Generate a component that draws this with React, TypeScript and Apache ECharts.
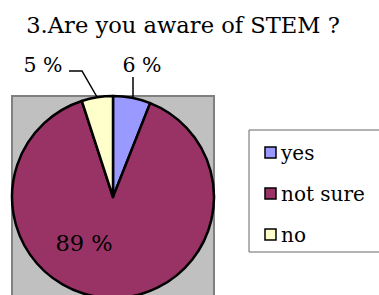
import React, { useEffect, useRef } from "react";
import * as echarts from "echarts";

const titleText = "3.Are you aware of STEM ?";
const categories = ["yes", "not sure", "no"];
const values = [6, 89, 5];
const colors = ["#9999FF", "#993366", "#FFFFCC"];

const FONT = "DejaVu Serif";

// legend layout constants
const LEG_LEFT = 249;
const LEG_TOP = 130;
const LEG_PAD = [10, 30, 5, 10];
const LEG_ROW = 25;
const LEG_GAP = 16;
const BOX = 11;

export default function App() {
  const ref = useRef<HTMLDivElement>(null);
  useEffect(() => {
    if (!ref.current) return;
    const chart = echarts.init(ref.current, null, { renderer: "svg" });
    const labelPos = [
      { x: 142, y: 65, line: [[133, 97], [133, 77], [133, 77]] },
      { x: 84, y: 243, line: null },
      { x: 43, y: 65, line: [[97, 97], [82, 71], [69, 71]] },
    ];
    const rich: any = {
      t: { fontFamily: FONT, fontSize: 20, lineHeight: LEG_ROW, color: "#000", padding: [0, 0, 0, 5] },
    };
    colors.forEach((c, i) => {
      rich["b" + i] = { width: BOX, height: BOX, backgroundColor: c };
    });
    const boxX = LEG_LEFT + LEG_PAD[3] + 1 + 5;
    const outlines = categories.map((_, i) => {
      const cy = LEG_TOP + LEG_PAD[0] + LEG_ROW / 2 + i * (LEG_ROW + LEG_GAP);
      return {
        type: "rect",
        shape: { x: boxX, y: cy - BOX / 2, width: BOX, height: BOX },
        style: { fill: "none", stroke: "#000", lineWidth: 1.5 },
        z: 100,
        silent: true,
      };
    });
    chart.setOption({
      animation: false,
      backgroundColor: "#ffffff",
      textStyle: { fontFamily: FONT },
      title: {
        text: titleText,
        left: 178,
        top: 8,
        textAlign: "center",
        textStyle: { fontFamily: FONT, fontSize: 22.6, fontWeight: "normal", color: "#000" },
      },
      graphic: [
        {
          type: "rect",
          shape: { x: 12, y: 96, width: 202, height: 220 },
          style: { fill: "#C0C0C0", stroke: "#808080", lineWidth: 2 },
          z: -10,
          silent: true,
        },
        ...outlines,
      ],
      legend: {
        orient: "vertical",
        left: LEG_LEFT,
        top: LEG_TOP,
        padding: LEG_PAD,
        itemGap: LEG_GAP,
        itemWidth: 1,
        itemHeight: 12,
        icon: "none",
        borderColor: "#666666",
        borderWidth: 1,
        backgroundColor: "#ffffff",
        formatter: (name: string) => `{b${categories.indexOf(name)}|}{t|${name}}`,
        textStyle: { fontFamily: FONT, fontSize: 20, lineHeight: LEG_ROW, color: "#000", rich },
        data: categories,
      },
      series: [
        {
          type: "pie",
          center: [113, 197],
          radius: 101,
          startAngle: 90,
          clockwise: true,
          avoidLabelOverlap: false,
          itemStyle: { borderColor: "#000", borderWidth: 2.5 },
          label: {
            show: true,
            formatter: "{c} %",
            fontFamily: FONT,
            fontSize: 20.5,
            color: "#000",
          },
          labelLine: { show: true, lineStyle: { color: "#000", width: 1.5 } },
          labelLayout: (params: any) => {
            const p = labelPos[params.dataIndex];
            const out: any = { x: p.x, y: p.y, align: "center", verticalAlign: "middle" };
            if (p.line) out.labelLinePoints = p.line;
            return out;
          },
          emphasis: { disabled: true },
          data: categories.map((name, i) => ({
            name,
            value: values[i],
            itemStyle: { color: colors[i] },
            label: i === 1 ? { position: "inside", fontSize: 22.5 } : undefined,
            labelLine: i === 1 ? { show: false } : undefined,
          })),
        },
      ],
    });
    return () => chart.dispose();
  }, []);
  return (
    <div
      ref={ref}
      style={{ position: "fixed", left: 0, top: 0, width: 379, height: 295, background: "#fff" }}
    />
  );
}
